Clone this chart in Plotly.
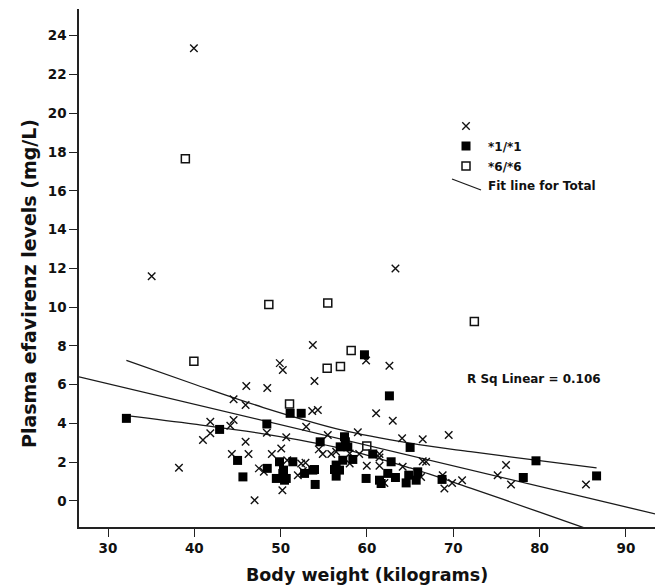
import plotly.graph_objects as go

# ---- data ----
cross_x = [39.95, 35.06, 63.3, 49.9, 46.02, 48.45, 44.55, 45.94, 41.85, 44.55, 44.17, 41.85, 48.4, 41.0,
           45.94, 44.35, 46.28, 48.98, 47.48, 48.05, 38.22, 46.98, 50.65, 50.07, 50.76, 50.2, 53.73, 59.9,
           50.25, 62.6, 53.92, 53.66, 54.31, 61.06, 62.99, 52.96, 55.46, 58.94, 64.07, 66.46, 69.47, 54.42,
           54.88, 55.86, 56.43, 58.0, 59.1, 61.45, 61.45, 58.0, 66.46, 66.85, 52.38, 52.88, 59.98, 61.45,
           64.14, 51.99, 52.57, 66.27, 62.02, 68.77, 68.97, 69.86, 71.02, 76.11, 75.14, 76.69, 85.37]
cross_y = [23.35, 11.59, 11.99, 7.11, 5.93, 5.83, 5.25, 4.95, 4.09, 4.17, 3.88, 3.49, 3.52, 3.14,
           3.05, 2.42, 2.42, 2.42, 1.68, 1.50, 1.71, 0.04, 3.28, 2.71, 2.10, 0.55, 8.05, 7.24,
           6.76, 6.98, 6.19, 4.64, 4.69, 4.52, 4.14, 3.83, 3.40, 3.54, 3.23, 3.18, 3.40, 2.66,
           2.42, 2.42, 2.54, 2.45, 2.42, 2.42, 2.24, 1.93, 2.05, 2.02, 1.93, 1.97, 1.81, 1.81,
           1.76, 1.33, 1.55, 1.24, 0.93, 1.33, 0.64, 0.93, 1.07, 1.85, 1.33, 0.85, 0.85]

wt11_x = [32.13, 42.93, 48.4, 45.01, 49.87, 48.45, 45.63, 49.5, 50.33, 50.65, 59.71, 62.6, 51.1, 52.38,
          57.4, 54.58, 57.5, 56.9, 57.78, 65.0, 60.67, 58.36, 57.2, 56.43, 62.8, 51.41, 53.92, 56.24,
          56.82, 62.41, 65.88, 64.84, 63.3, 52.77, 53.73, 50.25, 50.45, 56.43, 59.9, 61.45, 61.64, 54.0,
          64.54, 65.7, 68.7, 79.58, 78.11, 86.6]
wt11_y = [4.26, 3.69, 3.97, 2.09, 2.02, 1.68, 1.24, 1.16, 1.59, 1.16, 7.54, 5.42, 4.52, 4.52,
          3.31, 3.05, 3.05, 2.79, 2.79, 2.76, 2.42, 2.14, 2.10, 1.85, 2.02, 2.02, 1.62, 1.62,
          1.59, 1.42, 1.50, 1.33, 1.21, 1.42, 1.59, 1.42, 1.07, 1.28, 1.16, 1.07, 0.90, 0.85,
          0.93, 1.07, 1.11, 2.07, 1.21, 1.29]

m66_x = [38.96, 39.95, 48.63, 55.46, 58.17, 55.39, 56.93, 51.03, 59.98, 72.44]
m66_y = [17.66, 7.21, 10.14, 10.21, 7.76, 6.85, 6.93, 5.00, 2.83, 9.26]

# fit line for total
fit_intercept = 9.23
fit_slope = -0.106
fit_x = [26.64, 93.6]

# 95% CI of mean
ci_x = [32.13, 40, 48, 57, 65, 72, 80, 86.6]
ci_upper = [7.25, 6.02, 4.82, 3.67, 2.98, 2.54, 2.08, 1.71]
ci_lower = [4.40, 3.96, 3.46, 2.71, 1.70, 0.66, -0.58, -1.61]

x_ticks = [30, 40, 50, 60, 70, 80, 90]
y_ticks = [0, 2, 4, 6, 8, 10, 12, 14, 16, 18, 20, 22, 24]

FONT = "DejaVu Sans"
INK = "#111111"

# plot area in page pixels (page has an 8px body margin around the figure)
PX_L, PX_R, PX_T, PX_B = 79, 657, 9, 527
BODY = 8
FIG_W, FIG_H = 663 - BODY, 587 - BODY


def px_to_paper_x(px):
    return (px - PX_L) / (PX_R - PX_L)


def px_to_paper_y(py):
    return (PX_B - py) / (PX_B - PX_T)


fig = go.Figure()

line_style = dict(color="#1a1a1a", width=1.3)
fig.add_trace(go.Scatter(x=ci_x, y=ci_upper, mode="lines", line=dict(**line_style, shape="spline"),
                         showlegend=False, hoverinfo="skip"))
fig.add_trace(go.Scatter(x=ci_x, y=ci_lower, mode="lines", line=dict(**line_style, shape="spline"),
                         showlegend=False, hoverinfo="skip"))
fig.add_trace(go.Scatter(x=fit_x, y=[fit_intercept + fit_slope * v for v in fit_x], mode="lines",
                         line=line_style, showlegend=False, hoverinfo="skip"))

fig.add_trace(go.Scatter(x=cross_x, y=cross_y, mode="markers", showlegend=False,
                         marker=dict(symbol="x-thin", size=7.5, line=dict(color=INK, width=1.4), color=INK)))
fig.add_trace(go.Scatter(x=wt11_x, y=wt11_y, mode="markers", showlegend=False,
                         marker=dict(symbol="square", size=9, color="#000000", line=dict(width=0))))
fig.add_trace(go.Scatter(x=m66_x, y=m66_y, mode="markers", showlegend=False,
                         marker=dict(symbol="square-open", size=8, color=INK, line=dict(width=1.5, color=INK))))

# ---- manual legend on a pixel-space overlay axis ----
leg_x = [466, 466, 466]
leg_y = [126, 146, 166]
fig.add_trace(go.Scatter(x=[leg_x[0]], y=[leg_y[0]], xaxis="x2", yaxis="y2", mode="markers", showlegend=False,
                         marker=dict(symbol="x-thin", size=7.5, line=dict(color=INK, width=1.4))))
fig.add_trace(go.Scatter(x=[leg_x[1]], y=[leg_y[1]], xaxis="x2", yaxis="y2", mode="markers", showlegend=False,
                         marker=dict(symbol="square", size=9, color="#000000")))
fig.add_trace(go.Scatter(x=[leg_x[2]], y=[leg_y[2]], xaxis="x2", yaxis="y2", mode="markers", showlegend=False,
                         marker=dict(symbol="square-open", size=8, color=INK, line=dict(width=1.5, color=INK))))
fig.add_trace(go.Scatter(x=[452, 481], y=[179, 190], xaxis="x2", yaxis="y2", mode="lines", showlegend=False,
                         line=dict(color="#1a1a1a", width=1.3)))

legend_texts = ["*1/*1", "*6/*6", "Fit line for Total"]
legend_text_y = [147, 167, 186]
for t, yy in zip(legend_texts, legend_text_y):
    fig.add_annotation(x=px_to_paper_x(486), y=px_to_paper_y(yy), xref="paper", yref="paper", text=t,
                       showarrow=False, xanchor="left", yanchor="middle",
                       font=dict(family=FONT, size=12, color=INK, weight="bold"))

fig.add_annotation(x=px_to_paper_x(465), y=px_to_paper_y(379), xref="paper", yref="paper",
                   text="R Sq Linear = 0.106", showarrow=False, xanchor="left", yanchor="middle",
                   font=dict(family=FONT, size=12, color=INK, weight="bold"))

# axis titles
fig.add_annotation(x=px_to_paper_x(367), y=px_to_paper_y(575), xref="paper", yref="paper",
                   text="Body weight (kilograms)", showarrow=False, xanchor="center", yanchor="middle",
                   font=dict(family=FONT, size=17.5, color=INK, weight="bold"))
fig.add_annotation(x=px_to_paper_x(29), y=px_to_paper_y(284), xref="paper", yref="paper",
                   text="Plasma efavirenz levels (mg/L)", showarrow=False, textangle=-90,
                   xanchor="center", yanchor="middle",
                   font=dict(family=FONT, size=19, color=INK, weight="bold"))

axis_common = dict(showgrid=False, zeroline=False, showline=True, linecolor="#222222", linewidth=1.5,
                   ticks="outside", ticklen=8, tickwidth=1.3, tickcolor="#222222",
                   tickfont=dict(family=FONT, size=13.5, color=INK, weight="bold"))

fig.update_layout(
    width=FIG_W, height=FIG_H,
    margin=dict(l=PX_L - BODY, r=FIG_W - (PX_R - BODY), t=PX_T - BODY, b=FIG_H - (PX_B - BODY), pad=0),
    paper_bgcolor="white", plot_bgcolor="white",
    showlegend=False,
    xaxis=dict(range=[26.64, 93.6], tickvals=x_ticks, **axis_common),
    yaxis=dict(range=[-1.345, 25.38], tickvals=y_ticks, **axis_common),
    xaxis2=dict(overlaying="x", range=[PX_L, PX_R], visible=False, fixedrange=True),
    yaxis2=dict(overlaying="y", range=[PX_B, PX_T], visible=False, fixedrange=True),
)

fig.write_html("out.html")
